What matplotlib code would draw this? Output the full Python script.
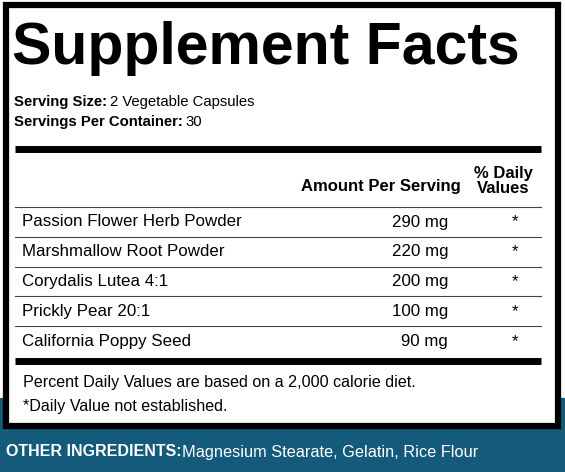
import matplotlib.pyplot as plt
from matplotlib.patches import Rectangle

plt.rcParams['font.family'] = ['Liberation Sans', 'DejaVu Sans']

ingredients = ["Passion Flower Herb Powder", "Marshmallow Root Powder", "Corydalis Lutea 4:1",
               "Prickly Pear 20:1", "California Poppy Seed"]
amounts = [290, 220, 200, 100, 90]
daily = ["*", "*", "*", "*", "*"]

teal = "#135a7b"
W, H = 565, 472

fig = plt.figure(figsize=(W / 100, H / 100), dpi=100)
ax = fig.add_axes([0, 0, 1, 1])
ax.set_xlim(0, W)
ax.set_ylim(H, 0)
ax.axis("off")

# teal band behind the bottom
ax.add_patch(Rectangle((0, 398), W, H - 398, color=teal, zorder=0))
# label box
ax.add_patch(Rectangle((6, 5), 552, 421, facecolor="white", edgecolor="black", lw=4.5, zorder=1))

ax.text(12, 48, "Supplement Facts", fontsize=42.5, fontweight="bold", va="center", ha="left", zorder=3)
ax.text(14, 102, "Serving Size:", fontsize=10.7, fontweight="bold", va="center", zorder=3)
ax.text(110, 102, "2 Vegetable Capsules", fontsize=10.7, va="center", zorder=3)
ax.text(14, 122, "Servings Per Container:", fontsize=10.7, fontweight="bold", va="center", zorder=3)
ax.text(185, 122, "30", fontsize=10.7, va="center", zorder=3)

ax.plot([15, 541], [148.5, 148.5], color="black", lw=5, solid_capstyle="butt", zorder=3)
ax.text(461, 187, "Amount Per Serving", fontsize=12, fontweight="bold", ha="right", va="center", zorder=3)
ax.text(503, 181, "% Daily\nValues", fontsize=12, fontweight="bold", ha="center", va="center",
        linespacing=1.05, zorder=3)

row_h = 29.8
y0 = 222
for i, (name, amt, dv) in enumerate(zip(ingredients, amounts, daily)):
    y = y0 + i * row_h
    ax.plot([15, 541], [y - 15, y - 15], color="#444444", lw=0.8, zorder=3)
    ax.text(22, y, name, fontsize=12.2, va="center", zorder=3)
    ax.text(448, y, f"{amt} mg", fontsize=12.2, va="center", ha="right", zorder=3)
    ax.text(515, y, dv, fontsize=12.2, va="center", ha="center", zorder=3)

ax.plot([15, 541], [360.5, 360.5], color="black", lw=5, solid_capstyle="butt", zorder=3)
ax.text(23, 382, "Percent Daily Values are based on a 2,000 calorie diet.", fontsize=11.6, va="center", zorder=3)
ax.text(23, 406, "*Daily Value not established.", fontsize=11.6, va="center", zorder=3)

ax.text(6, 452, "OTHER INGREDIENTS:", fontsize=11.5, fontweight="bold", color="white", va="center", zorder=3)
ax.text(182, 452, "Magnesium Stearate, Gelatin, Rice Flour", fontsize=11.8, color="white", va="center", zorder=3)

fig.savefig("out.png", dpi=100)
